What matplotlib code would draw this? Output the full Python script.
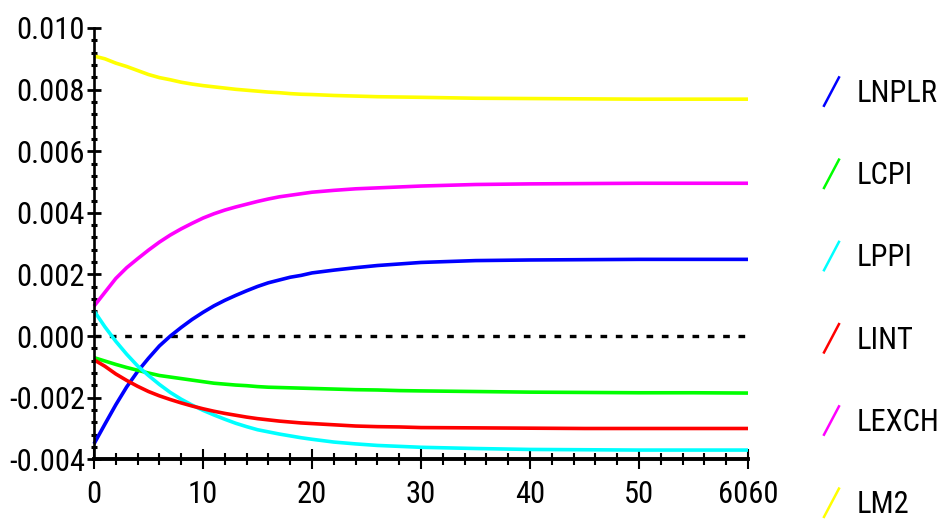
import os

import matplotlib
matplotlib.use("Agg")
import matplotlib.pyplot as plt
from matplotlib import font_manager
from matplotlib.legend_handler import HandlerBase
from matplotlib.lines import Line2D
from matplotlib.ticker import MultipleLocator

periods = [0, 1, 2, 3, 4, 5, 6, 7, 8, 9, 10, 11, 12, 13, 14, 15, 16, 17, 18, 19, 20,
           22, 24, 26, 28, 30, 35, 40, 45, 50, 55, 60]

lnplr = [-0.00350, -0.00286, -0.00223, -0.00165, -0.00115, -0.00072, -0.00032, 0.00000,
         0.00028, 0.00054, 0.00077, 0.00098, 0.00116, 0.00132, 0.00147, 0.00161,
         0.00173, 0.00182, 0.00191, 0.00197, 0.00205,
         0.00214, 0.00222, 0.00229, 0.00234, 0.00239, 0.00245, 0.00247, 0.00248,
         0.00249, 0.00249, 0.00249]
lcpi = [-0.00070, -0.00081, -0.00092, -0.00102, -0.00111, -0.00120, -0.00128, -0.00133,
        -0.00138, -0.00143, -0.00148, -0.00153, -0.00156, -0.00159, -0.00161, -0.00164,
        -0.00166, -0.00167, -0.00168, -0.00169, -0.00170,
        -0.00172, -0.00174, -0.00175, -0.00177, -0.00178, -0.00180, -0.00182, -0.00183,
        -0.00184, -0.00184, -0.00185]
lppi = [0.00082, 0.00030, -0.00017, -0.00059, -0.00097, -0.00128, -0.00157, -0.00183,
        -0.00205, -0.00224, -0.00241, -0.00256, -0.00270, -0.00283, -0.00294, -0.00304,
        -0.00311, -0.00318, -0.00324, -0.00330, -0.00335,
        -0.00344, -0.00350, -0.00355, -0.00358, -0.00361, -0.00365, -0.00368, -0.00369,
        -0.00370, -0.00370, -0.00370]
lint = [-0.00077, -0.00098, -0.00123, -0.00144, -0.00163, -0.00180, -0.00194, -0.00206,
        -0.00217, -0.00227, -0.00236, -0.00244, -0.00251, -0.00257, -0.00263, -0.00268,
        -0.00272, -0.00276, -0.00279, -0.00282, -0.00284,
        -0.00288, -0.00292, -0.00294, -0.00295, -0.00297, -0.00298, -0.00299, -0.00300,
        -0.00300, -0.00300, -0.00300]
lexch = [0.00097, 0.00142, 0.00187, 0.00222, 0.00251, 0.00279, 0.00305, 0.00328,
         0.00348, 0.00366, 0.00383, 0.00397, 0.00409, 0.00419, 0.00428, 0.00437,
         0.00445, 0.00452, 0.00457, 0.00462, 0.00467,
         0.00473, 0.00478, 0.00481, 0.00484, 0.00487, 0.00492, 0.00494, 0.00495,
         0.00496, 0.00496, 0.00496]
lm2 = [0.00909, 0.00900, 0.00886, 0.00875, 0.00862, 0.00849, 0.00839, 0.00832,
       0.00824, 0.00818, 0.00813, 0.00809, 0.00805, 0.00801, 0.00798, 0.00795,
       0.00792, 0.00790, 0.00787, 0.00785, 0.00784,
       0.00781, 0.00779, 0.00777, 0.00776, 0.00775, 0.00772, 0.00771, 0.00770,
       0.00769, 0.00769, 0.00769]

series_names = ["LNPLR", "LCPI", "LPPI", "LINT", "LEXCH", "LM2"]
series_values = [lnplr, lcpi, lppi, lint, lexch, lm2]
series_colors = ["#0000ff", "#00ff00", "#00ffff", "#ff0000", "#ff00ff", "#ffff00"]

xticks = [0, 10, 20, 30, 40, 50, 60]
xtick_labels = ["0", "10", "20", "30", "40", "50", "6060"]
yticks = [-0.004, -0.002, 0.000, 0.002, 0.004, 0.006, 0.008, 0.010]
ytick_labels = ["-0.004", "-0.002", "0.000", "0.002", "0.004", "0.006", "0.008", "0.010"]


def narrow_font_path():
    # tall, narrow lettering like the original; fall back to plain DejaVu
    wanted = ["LiberationSansNarrow-Regular.ttf", "RobotoCondensed-Regular.ttf",
              "DejaVuSansCondensed.ttf", "OpenSans_Condensed-Regular.ttf"]
    paths = [f.fname for f in font_manager.fontManager.ttflist]
    for name in wanted:
        for p in paths:
            if os.path.basename(p) == name:
                return p, name
    return None, None


class SlashHandler(HandlerBase):
    def create_artists(self, legend, orig_handle, xdescent, ydescent,
                       width, height, fontsize, trans):
        line = Line2D([-xdescent, width - xdescent], [-ydescent, height - ydescent],
                      color=orig_handle.get_color(), linewidth=1.8, transform=trans)
        return [line]


path, fname = narrow_font_path()
if path is not None:
    size = 20 if fname.startswith("DejaVu") else 22
    fp = font_manager.FontProperties(fname=path, size=size)
else:
    fp = font_manager.FontProperties(family="DejaVu Sans", size=18)

fig = plt.figure(figsize=(9.43, 5.27), dpi=100)
ax = fig.add_axes([94 / 943, 67.7 / 527, 654 / 943, 431.3 / 527])

ax.axhline(0, color="black", linewidth=2.4, linestyle=(0, (2.0, 2.6)),
           dash_capstyle="butt", zorder=1)

handles = []
for name, vals, col in zip(series_names, series_values, series_colors):
    ln, = ax.plot(periods, vals, color=col, linewidth=2.6, label=name,
                  solid_capstyle="butt", clip_on=False, zorder=2)
    handles.append(ln)

ax.set_xlim(0, 60)
ax.set_ylim(-0.004, 0.010)
ax.spines["top"].set_visible(False)
ax.spines["right"].set_visible(False)
ax.spines["left"].set_linewidth(1.9)
ax.spines["bottom"].set_linewidth(2.8)

ax.set_xticks(xticks)
ax.set_xticklabels(xtick_labels, fontproperties=fp)
ax.set_yticks(yticks)
ax.set_yticklabels(ytick_labels, fontproperties=fp)
ax.xaxis.set_minor_locator(MultipleLocator(2))
ax.yaxis.set_minor_locator(MultipleLocator(0.0004))

ax.tick_params(axis="x", which="major", direction="inout", length=13.7, width=1.5, pad=8)
ax.tick_params(axis="x", which="minor", direction="inout", length=8.2, width=1.5)
ax.tick_params(axis="y", which="major", direction="inout", length=9.6, width=2.0, pad=1.7)
ax.tick_params(axis="y", which="minor", direction="inout", length=4.3, width=2.2)

leg = fig.legend(handles=handles, labels=series_names, loc="upper left",
                 bbox_to_anchor=(824 / 943, 1 - 77.4 / 527), frameon=False,
                 prop=fp, handler_map={Line2D: SlashHandler()},
                 handlelength=0.49, handleheight=1.05, handletextpad=0.59,
                 labelspacing=1.69, borderpad=0, borderaxespad=0)

fig.savefig("out.png", dpi=100, facecolor="white")
plt.close(fig)
